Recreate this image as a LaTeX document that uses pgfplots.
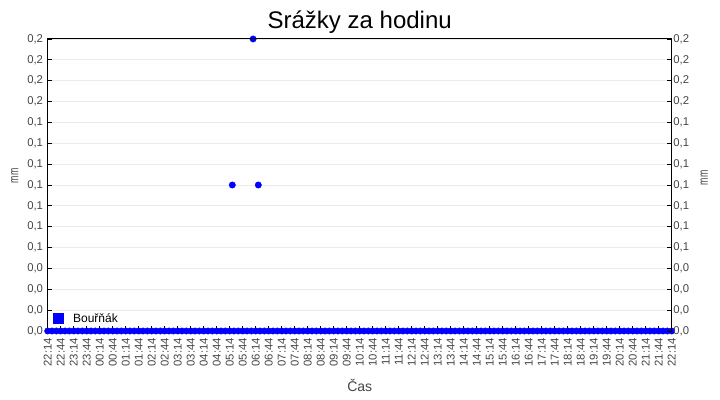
\documentclass[border=0pt]{standalone}
\usepackage{fontspec}
\setmainfont{Liberation Sans}
\usepackage{graphicx}
\usepackage{pgfplots}
\pgfplotsset{compat=1.18}
\definecolor{tickgray}{HTML}{444444}
\definecolor{gridgray}{HTML}{EBEBEB}
\pgfplotstableread{
x y
0 0
10 0
20 0
30 0
40 0
50 0
60 0
70 0
80 0
90 0
100 0
110 0
120 0
130 0
140 0
150 0
160 0
170 0
180 0
190 0
200 0
210 0
220 0
230 0
240 0
250 0
260 0
270 0
280 0
290 0
300 0
310 0
320 0
330 0
340 0
350 0
360 0
370 0
380 0
390 0
400 0
410 0
420 0
426 0.1
440 0
450 0
460 0
474 0.2
486 0.1
500 0
510 0
520 0
530 0
540 0
550 0
560 0
570 0
580 0
590 0
600 0
610 0
620 0
630 0
640 0
650 0
660 0
670 0
680 0
690 0
700 0
710 0
720 0
730 0
740 0
750 0
760 0
770 0
780 0
790 0
800 0
810 0
820 0
830 0
840 0
850 0
860 0
870 0
880 0
890 0
900 0
910 0
920 0
930 0
940 0
950 0
960 0
970 0
980 0
990 0
1000 0
1010 0
1020 0
1030 0
1040 0
1050 0
1060 0
1070 0
1080 0
1090 0
1100 0
1110 0
1120 0
1130 0
1140 0
1150 0
1160 0
1170 0
1180 0
1190 0
1200 0
1210 0
1220 0
1230 0
1240 0
1250 0
1260 0
1270 0
1280 0
1290 0
1300 0
1310 0
1320 0
1330 0
1340 0
1350 0
1360 0
1370 0
1380 0
1390 0
1400 0
1410 0
1420 0
1430 0
1440 0
}\rain
\pgfplotstableread{
x y
430 0
470 0
480 0
490 0
}\zeros
\begin{document}
\begin{tikzpicture}
\pgfplotsset{
  common/.style={
    scale only axis, width=624bp, height=292bp,
    xmin=0, xmax=1440, ymin=0, ymax=0.2,
    ytick={0,0.0142857,0.0285714,0.0428571,0.0571429,0.0714286,0.0857143,0.1,0.1142857,0.1285714,0.1428571,0.1571429,0.1714286,0.1857143,0.2},
    yticklabels={{0,0},{0,0},{0,0},{0,0},{0,1},{0,1},{0,1},{0,1},{0,1},{0,1},{0,1},{0,2},{0,2},{0,2},{0,2}},
    tick align=inside, major tick length=4.5bp,
    tick style={black, line width=0.8bp},
    axis line style={black, line width=1bp},
    ticklabel style={font=\fontsize{11.3bp}{13bp}\selectfont, text=tickgray},
    /pgf/number format/assume math mode=true,
  }
}
\begin{axis}[common, name=ax,
  clip=false,
  xtick={0,30,60,90,120,150,180,210,240,270,300,330,360,390,420,450,480,510,540,570,600,630,660,690,720,750,780,810,840,870,900,930,960,990,1020,1050,1080,1110,1140,1170,1200,1230,1260,1290,1320,1350,1380,1410,1440},
  xticklabels={22:14,22:44,23:14,23:44,00:14,00:44,01:14,01:44,02:14,02:44,03:14,03:44,04:14,04:44,05:14,05:44,06:14,06:44,07:14,07:44,08:14,08:44,09:14,09:44,10:14,10:44,11:14,11:44,12:14,12:44,13:14,13:44,14:14,14:44,15:14,15:44,16:14,16:44,17:14,17:44,18:14,18:44,19:14,19:44,20:14,20:44,21:14,21:44,22:14},
  x tick label style={yshift=-6bp, rotate=90, anchor=east, inner xsep=1bp},
  y tick label style={xshift=-3.5bp, inner xsep=1bp},
  xtick pos=bottom, ytick pos=left,
  ymajorgrids, grid style={gridgray, line width=0.8bp},
  legend style={at={(0,0)}, anchor=south west, draw=none, fill=none,
    font=\fontsize{12bp}{14bp}\selectfont, xshift=2bp, yshift=3bp},
  legend image code/.code={\fill[blue] (0bp,-5bp) rectangle (10bp,5bp); \path[draw=none, fill=none] (0bp,0bp) -- (18bp,0bp);},
]
\addplot[only marks, mark=*, mark size=3.2bp, draw=blue, fill=blue, mark options={draw=blue, fill=blue}] table[x=x,y=y] {\rain};
\addlegendentry{Bouřňák}
\addplot[only marks, mark=*, mark size=3.2bp, draw=blue, fill=blue, mark options={draw=blue, fill=blue}, forget plot] table[x=x,y=y] {\zeros};
\end{axis}
\begin{axis}[common,
  axis x line=none, axis y line*=right,
  ytick pos=right, yticklabel pos=right,
  y tick label style={inner xsep=1.5bp},
]
\end{axis}
\draw[black, line width=1bp] (ax.north west) -- (ax.north east);
\node[anchor=base, font=\fontsize{24bp}{28bp}\selectfont] at ([yshift=10.7bp]ax.north) {Srážky za hodinu};
\node[anchor=base, font=\fontsize{14bp}{16bp}\selectfont, text=tickgray] at ([yshift=-60bp]ax.south) {Čas};
\node[rotate=90, anchor=center, font=\fontsize{13.5bp}{15bp}\selectfont, text=tickgray] at ([xshift=-33bp,yshift=9bp]ax.west) {\scalebox{0.65}[1]{mm}};
\node[rotate=90, anchor=center, font=\fontsize{13.5bp}{15bp}\selectfont, text=tickgray] at ([xshift=32.5bp,yshift=7bp]ax.east) {\scalebox{0.65}[1]{mm}};
\pgfresetboundingbox
\path ([xshift=-47.7bp,yshift=-69bp]ax.south west) rectangle ++(720bp,400bp);
\end{tikzpicture}
\end{document}
